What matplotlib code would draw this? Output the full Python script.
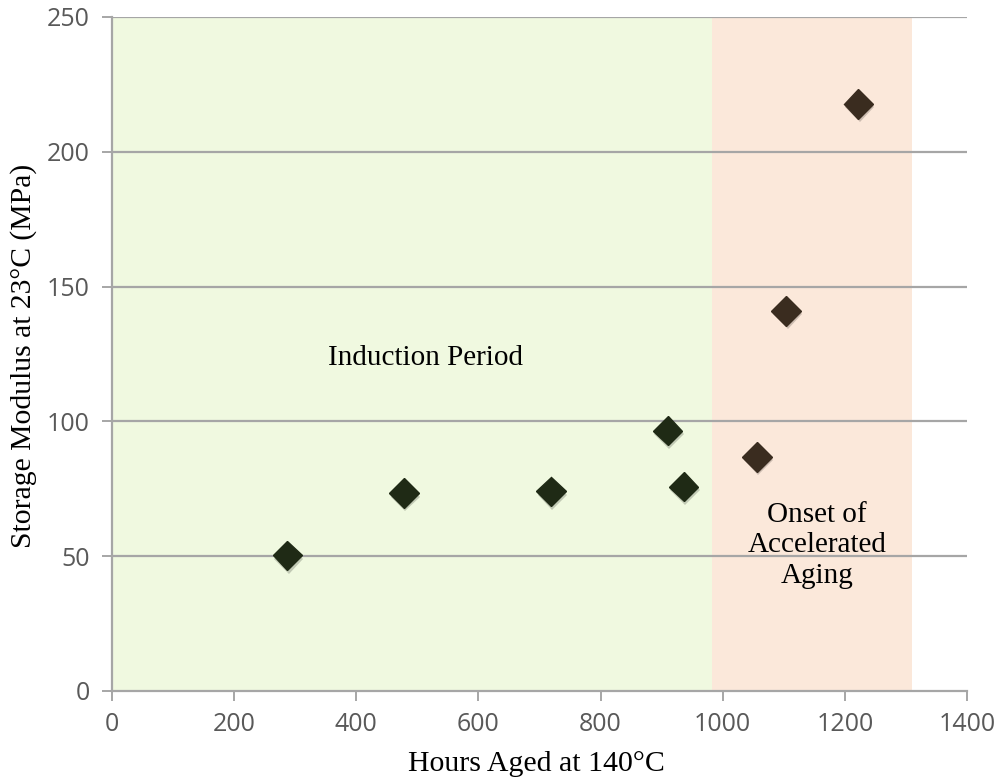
import matplotlib.pyplot as plt
import matplotlib.patheffects as pe

# Storage modulus vs. hours aged at 140 C
hours = [287, 478, 719, 910, 936, 1056, 1104, 1222]
modulus = [50.3, 73.4, 74.0, 96.6, 75.8, 86.8, 141.0, 217.8]

induction_end = 982
accel_end = 1310

x_ticks = [0, 200, 400, 600, 800, 1000, 1200, 1400]
y_ticks = [0, 50, 100, 150, 200, 250]

GREEN_FILL = "#f0f9e0"
ORANGE_FILL = "#fbe8da"
GREEN_MARK = "#1f2a15"
BROWN_MARK = "#3a2c1f"
SERIF = "Liberation Serif"


def main() -> None:
    fig = plt.figure(figsize=(9.98, 7.82), dpi=100)
    ax = fig.add_axes([0.1122, 0.1164, 0.8567, 0.8619])

    ax.axvspan(0, induction_end, color=GREEN_FILL, zorder=0, lw=0)
    ax.axvspan(induction_end, accel_end, color=ORANGE_FILL, zorder=0, lw=0)

    for y in y_ticks[1:]:
        ax.axhline(y, color="#a6a6a6", lw=1.6, zorder=1)

    colors = [GREEN_MARK if h < induction_end else BROWN_MARK for h in hours]
    for h, m, c in zip(hours, modulus, colors):
        ax.plot(h, m, marker="D", ms=15, color=c, mec=c, ls="none", zorder=3,
                path_effects=[pe.SimplePatchShadow(offset=(1, -2.5), alpha=0.2),
                              pe.Normal()])

    ax.set_xlim(0, 1400)
    ax.set_ylim(0, 250)
    ax.set_xticks(x_ticks)
    ax.set_yticks(y_ticks)

    for side in ("top", "right"):
        ax.spines[side].set_visible(False)
    for side in ("left", "bottom"):
        ax.spines[side].set_color("#a6a6a6")
        ax.spines[side].set_linewidth(1.6)

    ax.tick_params(axis="both", colors="#a6a6a6", length=7, width=1.4,
                   labelcolor="#595959", labelsize=18)
    ax.tick_params(axis="x", pad=8)
    ax.tick_params(axis="y", pad=9)
    for lbl in ax.get_xticklabels() + ax.get_yticklabels():
        lbl.set_fontfamily("Open Sans")

    fig.text(0.538, 0.023, "Hours Aged at 140°C", fontsize=21.5, fontfamily=SERIF,
             ha="center", va="center")
    fig.text(0.024, 0.545, "Storage Modulus at 23°C (MPa)", fontsize=21.3,
             fontfamily=SERIF, ha="center", va="center", rotation=90)

    ax.text(514, 123.5, "Induction Period", fontsize=21, fontfamily=SERIF,
            ha="center", va="center", zorder=4)
    ax.text(1154, 54, "Onset of\nAccelerated\nAging", fontsize=21, fontfamily=SERIF,
            ha="center", va="center", linespacing=1.22, zorder=4)

    fig.savefig("out.png", dpi=100)
    plt.close(fig)


if __name__ == "__main__":
    main()
